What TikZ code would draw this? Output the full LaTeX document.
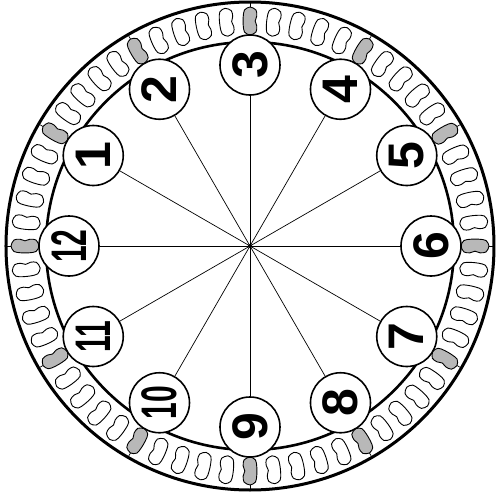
\documentclass[tikz,border=0pt]{standalone}
\usepackage{fontspec}
\setmainfont{Liberation Sans}
\definecolor{beangray}{gray}{0.72}
\tikzset{
  bean/.style={draw=black, line width=0.9pt},
  numcircle/.style={circle, draw=black, line width=1.6pt, fill=white, minimum size=60pt, inner sep=0pt},
  numlabel/.style={font=\bfseries\fontsize{50}{50}\selectfont, rotate=90, inner sep=0pt},
  spoke/.style={line width=0.7pt},
}
\begin{document}
\begin{tikzpicture}[x=1pt,y=1pt]
	\useasboundingbox (-250,-253) rectangle (246,246);
	\coordinate (c) at (0,0);
	
	% Outer ring
	\draw[line width=3pt] (c) circle (244);
	
	% Beans, a gray one every fifth
	\foreach \k in {0,...,59}{
		\pgfmathsetmacro{\a}{6*\k}
		\pgfmathtruncatemacro{\m}{mod(\k,5)}
		\ifnum\m=0 \def\bfill{beangray}\else\def\bfill{white}\fi
		\begin{scope}[shift={(\a:225)}, rotate=\a]
			\draw[bean, fill=\bfill] plot[smooth cycle] coordinates {(14,0) (11,5.5) (4,6.8) (-4,6.8) (-11,5.5) (-14,0) (-11,-6) (-5,-6.8) (0,-5.2) (5,-6.8) (11,-6)};
		\end{scope}
		\ifnum\m=0 \draw[spoke] (\a:239) -- (\a:244); \fi
	}
	
	% Inner ring
	\draw[line width=2.6pt] (c) circle (204);
	
	% Number circles and spokes
	\foreach \n in {1,...,12}{
		\pgfmathsetmacro{\a}{180-30*\n}
		\node[numcircle] (n\n) at (\a:181) {};
		\draw[spoke] (c) -- (n\n);
	}
	\fill (c) circle (2);
	
	% Labels
	\foreach \n in {1,...,9}{
		\node[numlabel] (t\n) at (n\n) {\n};
	}
	\foreach \n in {10,11,12}{
		\node[numlabel] (t\n) at (n\n) {\scalebox{0.6}[1]{\n}};
	}
\end{tikzpicture}
\end{document}
